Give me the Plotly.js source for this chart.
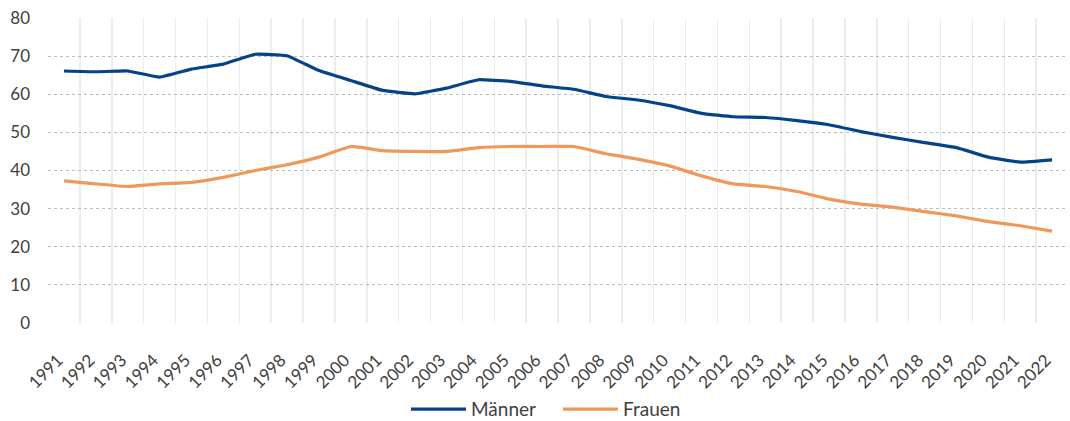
<!DOCTYPE html>
<html>
<head>
<meta charset="utf-8">
<script src="https://cdn.plot.ly/plotly-3.0.1.min.js"></script>
<style>html,body{margin:0;padding:0;background:#fff;}#chart{width:1070px;height:421px;}</style>
</head>
<body>
<div id="chart"></div>
<script>
const years = ["1991","1992","1993","1994","1995","1996","1997","1998","1999","2000","2001","2002","2003","2004","2005","2006","2007","2008","2009","2010","2011","2012","2013","2014","2015","2016","2017","2018","2019","2020","2021","2022"];
const maenner = [66.1,65.9,66.1,64.5,66.6,67.9,70.5,70.1,66.2,63.6,61.0,60.1,61.6,63.8,63.4,62.2,61.3,59.4,58.5,57.0,55.0,54.1,53.9,53.1,52.0,50.2,48.7,47.3,46.0,43.5,42.2,42.8];
const frauen = [37.3,36.5,35.8,36.5,36.9,38.2,40.0,41.5,43.5,46.3,45.2,45.0,45.0,46.0,46.3,46.3,46.3,44.4,43.0,41.2,38.6,36.5,35.8,34.5,32.5,31.2,30.4,29.2,28.1,26.6,25.5,24.1];
const yTicks = [0,10,20,30,40,50,60,70,80];

const font = "Lato, sans-serif";
const data = [
  {x: years, y: maenner, name: "Männer", type: "scatter", mode: "lines",
   line: {color: "#04438a", width: 3.2, shape: "spline", smoothing: 0.3}},
  {x: years, y: frauen, name: "Frauen", type: "scatter", mode: "lines",
   line: {color: "#f0975a", width: 3.2, shape: "spline", smoothing: 0.3}}
];
const layout = {
  width: 1070, height: 421,
  margin: {l: 48, r: 2, t: 18, b: 98},
  paper_bgcolor: "#fff", plot_bgcolor: "#fff",
  font: {family: font, size: 17, color: "#404040"},
  showlegend: true,
  legend: {orientation: "h", x: 0.5, xanchor: "center", yref: "container", y: 0.028, yanchor: "middle",
           font: {family: font, size: 19, color: "#404040"}, itemwidth: 55, entrywidth: 82, entrywidthmode: "pixels"},
  xaxis: {type: "category", range: [-0.5, 31.5], tickson: "boundaries", ticks: "", automargin: false,
          showgrid: true, gridcolor: "#ececec", gridwidth: 1.5, griddash: "solid", zeroline: false, showline: false,
          tickangle: -45, ticklabelstandoff: 23, ticklabelshift: -6, tickfont: {family: font, size: 17, color: "#404040"}},
  yaxis: {range: [0, 80], tickvals: yTicks, ticktext: yTicks.map(String), ticks: "", automargin: false,
          showgrid: true, gridcolor: "#bdbdbd", griddash: "dot", gridwidth: 1, zeroline: false,
          showline: false, ticklabelstandoff: 17, tickfont: {family: font, size: 17, color: "#404040"}}
};
Plotly.newPlot("chart", data, layout, {displayModeBar: false, staticPlot: true});
</script>
</body>
</html>
